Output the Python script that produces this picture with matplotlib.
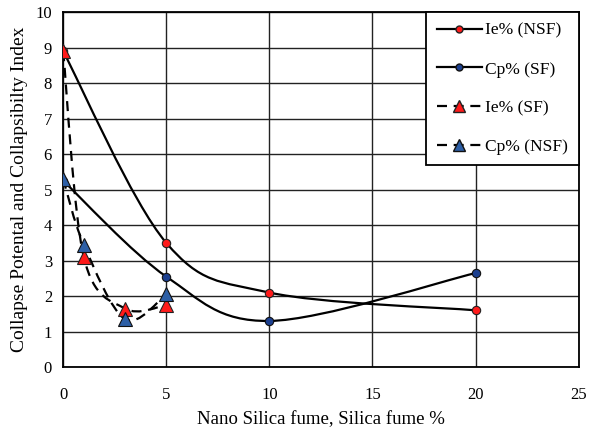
import numpy as np
import matplotlib
matplotlib.use('Agg')
import matplotlib.pyplot as plt
from matplotlib.path import Path
from matplotlib.patches import PathPatch
from matplotlib.lines import Line2D

plt.rcParams['font.family'] = ['Liberation Serif', 'DejaVu Serif']

# data
x_nsf_solid = [0, 5, 10, 20]
ie_nsf = [8.9, 3.5, 2.1, 1.6]        # Ie% (NSF), red circles
cp_sf = [5.25, 2.55, 1.3, 2.65]      # Cp% (SF), blue circles

x_sf_dash = [0, 1, 3, 5]
ie_sf = [8.9, 3.1, 1.65, 1.75]       # Ie% (SF), red triangles
cp_nsf = [5.3, 3.45, 1.35, 2.05]     # Cp% (NSF), blue triangles

labels = ['Ie% (NSF)', 'Cp% (SF)', 'Ie% (SF)', 'Cp% (NSF)']

RED = '#ff1a1a'
BLUE = '#2d5fa6'
NAVY = '#1b3f8f'


def smooth_path(xs, ys):
    # excel-like smoothed line (catmull-rom -> cubic bezier)
    pts = np.column_stack([xs, ys]).astype(float)
    n = len(pts)
    verts = [pts[0]]
    codes = [Path.MOVETO]
    for i in range(n - 1):
        p0 = pts[max(i - 1, 0)]
        p1 = pts[i]
        p2 = pts[i + 1]
        p3 = pts[min(i + 2, n - 1)]
        c1 = p1 + (p2 - p0) / 6
        c2 = p2 - (p3 - p1) / 6
        verts += [c1, c2, p2]
        codes += [Path.CURVE4] * 3
    return Path(verts, codes)


fig = plt.figure(figsize=(5.96, 4.37), dpi=100)
ax = fig.add_axes([0.106, 0.160, 0.865, 0.812])

ax.set_xlim(0, 25)
ax.set_ylim(0, 10)
ax.set_xticks(range(0, 26, 5))
ax.set_yticks(range(0, 11))
ax.grid(True, color='#222222', lw=1.0)
ax.set_axisbelow(True)
for s in ax.spines.values():
    s.set_color('black')
    s.set_linewidth(1.3)
ax.tick_params(axis='both', length=0, labelsize=12)
ax.tick_params(axis='x', pad=14)
ax.tick_params(axis='y', pad=8)

dash = (0, (4.5, 3))
ax.add_patch(PathPatch(smooth_path(x_nsf_solid, ie_nsf), fill=False, ec='black', lw=1.6, zorder=3))
ax.add_patch(PathPatch(smooth_path(x_nsf_solid, cp_sf), fill=False, ec='black', lw=1.6, zorder=3))
ax.add_patch(PathPatch(smooth_path(x_sf_dash, ie_sf), fill=False, ec='black', lw=1.6, ls=dash, zorder=3))
ax.add_patch(PathPatch(smooth_path(x_sf_dash, cp_nsf), fill=False, ec='black', lw=1.6, ls=dash, zorder=3))

ax.plot(x_nsf_solid, ie_nsf, ls='none', marker='o', ms=6, mfc=RED, mec='#222222', mew=0.8, zorder=4)
ax.plot(x_nsf_solid, cp_sf, ls='none', marker='o', ms=6, mfc=NAVY, mec='#111111', mew=0.8, zorder=4)
ax.plot(x_sf_dash, ie_sf, ls='none', marker='^', ms=10, mfc=RED, mec='#222222', mew=0.8, zorder=5)
ax.plot(x_sf_dash, cp_nsf, ls='none', marker='^', ms=10, mfc=BLUE, mec='#111111', mew=0.8, zorder=5)

handles = [
    Line2D([], [], color='black', lw=1.6, marker='o', ms=5, mfc=RED, mec='#222222'),
    Line2D([], [], color='black', lw=1.6, marker='o', ms=5, mfc=NAVY, mec='#111111'),
    Line2D([], [], color='black', lw=1.6, ls=dash, marker='^', ms=8, mfc=RED, mec='#222222'),
    Line2D([], [], color='black', lw=1.6, ls=dash, marker='^', ms=8, mfc=BLUE, mec='#111111'),
]
leg = ax.legend(handles, labels, loc='upper right', bbox_to_anchor=(1.0, 1.0),
                borderaxespad=0, fancybox=False, framealpha=1, edgecolor='black',
                fontsize=12.5, handlelength=2.6, handletextpad=0.2, labelspacing=1.3,
                borderpad=0.6)
leg.get_frame().set_linewidth(1.3)

ax.set_xlabel('Nano Silica fume, Silica fume %', fontsize=13.5, labelpad=6)
ax.set_ylabel('Collapse Potental and Collapsibilty Index', fontsize=14, labelpad=5)

fig.savefig('out.png', dpi=100)
